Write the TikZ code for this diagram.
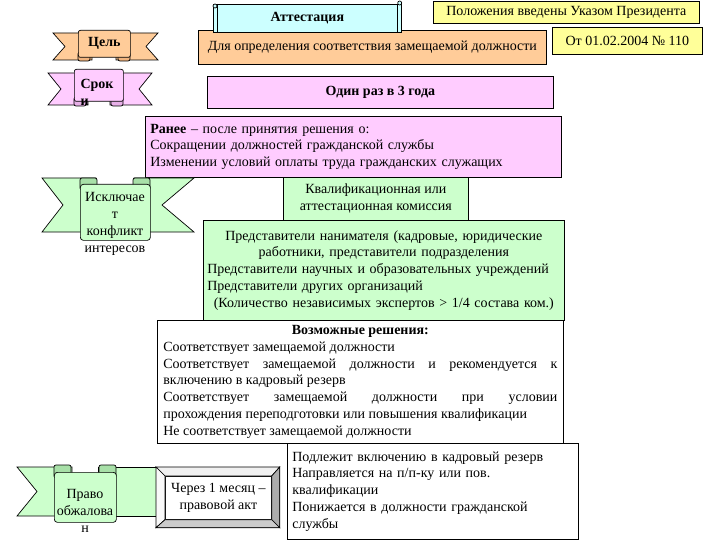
\documentclass[tikz,border=0pt]{standalone}
\usepackage{fontspec}
\setmainfont{Liberation Serif}
\usepackage{tikz}
\usetikzlibrary{calc}
\definecolor{ATTCyan}{HTML}{CCFFFF}
\definecolor{ATTYellow}{HTML}{FFFF99}
\definecolor{ATTPeach}{HTML}{FFCC99}
\definecolor{ATTPeachDark}{HTML}{F0B47E}
\definecolor{ATTViolet}{HTML}{FFCCFF}
\definecolor{ATTVioletDark}{HTML}{E8B0E8}
\definecolor{ATTGreen}{HTML}{CCFFCC}
\definecolor{ATTGreenDark}{HTML}{A8E0A8}
\setlength{\parindent}{0pt}

\begin{document}
\begin{tikzpicture}[
      x=1pt,y=-1pt,
      font=\fontsize{14}{16.8}\selectfont,
      panel/.style={draw=black,line width=0.7pt,anchor=north west,inner sep=0pt},
      tag/.style={panel,rounded corners=2pt,fill=#1},
      ribbontail/.style={draw=black,line width=0.7pt,fill=#1},
      ribbonfold/.style={draw=black,line width=0.7pt,fill=#1,rounded corners=2pt},
      bevel/.style={draw=black,line width=0.7pt,fill=#1}
    ]
      \useasboundingbox (0,0) rectangle (720,540);

      \node[panel,fill=ATTPeach,minimum width=348,minimum height=34] (goal) at (198,30)
        {Для определения соответствия замещаемой должности};
      \node[panel,fill=ATTCyan,minimum width=188,minimum height=28] (atte) at (213,4)
        {\textbf{Аттестация}};
      \draw[line width=0.7pt] (atte.north west) ++(4,0) -- ++(0,28);
      \draw[line width=0.7pt] (atte.north east) ++(-4,0) -- ++(0,28);
      \draw[line width=0.7pt,fill=ATTCyan] (atte.north west) ++(2,2) circle (2pt);
      \draw[line width=0.7pt,fill=ATTCyan] (atte.north east) ++(-2,-1) circle (2pt);

      \node[panel,fill=ATTYellow,minimum width=266,minimum height=22] (decree) at (433,1)
        {Положения введены Указом Президента};
      \node[panel,fill=ATTYellow,minimum width=150,minimum height=27] (date) at (552,27)
        {От 01.02.2004 № 110};

      \filldraw[ribbontail=ATTPeach] (53,33) -- (92,33) -- (92,60) -- (53,60) -- (65,46.5) -- cycle;
      \filldraw[ribbontail=ATTPeach] (158,33) -- (116,33) -- (116,60) -- (158,60) -- (146,46.5) -- cycle;
      \filldraw[ribbonfold=ATTPeachDark] (78,52) rectangle (90,61);
      \filldraw[ribbonfold=ATTPeachDark] (118,52) rectangle (130,61);
      \node[tag=ATTPeach,minimum width=52,minimum height=27] (goaltag) at (78,30) {\textbf{Цель}};

      \filldraw[ribbontail=ATTViolet] (48,73) -- (88,73) -- (88,105) -- (48,105) -- (61,89) -- cycle;
      \filldraw[ribbontail=ATTViolet] (152,73) -- (110,73) -- (110,105) -- (152,105) -- (139,89) -- cycle;
      \filldraw[ribbonfold=ATTVioletDark] (74,97) rectangle (86,106);
      \filldraw[ribbonfold=ATTVioletDark] (111,97) rectangle (123,106);
      \node[tag=ATTViolet,minimum width=49,minimum height=32] (termtag) at (74,69) {};
      \node[align=left,inner sep=0pt] (termtext) at (97,92) {\textbf{Срок}\\\textbf{и}};

      \node[panel,fill=ATTViolet,minimum width=346,minimum height=32] (period) at (207,76)
        {\textbf{Один раз в 3 года}};

      \node[panel,fill=ATTViolet,minimum width=416,minimum height=61,text width=406,
        inner xsep=5,align=left] (earlier) at (145,116)
        {\textbf{Ранее} – после принятия решения о:\\
         Сокращении должностей гражданской службы\\
         Изменении условий оплаты труда гражданских служащих};

      \filldraw[ribbontail=ATTGreen] (42,178) -- (96,178) -- (96,232) -- (42,232) -- (63,205) -- cycle;
      \filldraw[ribbontail=ATTGreen] (194,178) -- (134,178) -- (134,232) -- (194,232) -- (162,205) -- cycle;
      \filldraw[ribbonfold=ATTGreenDark] (80,178) rectangle (97,190);
      \filldraw[ribbonfold=ATTGreenDark] (133,178) rectangle (150,190);
      \node[tag=ATTGreen,rounded corners=3pt,minimum width=70,minimum height=56] (conflicttag) at (80,184) {};
      \node[align=center,inner sep=0pt] (conflicttext) at (115,224)
        {Исключае\\т\\конфликт\\интересов};

      \node[panel,fill=ATTGreen,minimum width=185,minimum height=43,align=center] (commission) at (283,177)
        {Квалификационная или\\аттестационная комиссия};
      \node[panel,fill=ATTGreen,minimum width=361,minimum height=100,text width=353,
        inner xsep=4,align=left] (members) at (203,220)
        {{\centering Представители нанимателя (кадровые, юридические\\
          работники, представители подразделения\par}
         Представители научных и образовательных учреждений\\
         Представители других организаций\\
         {\centering (Количество независимых экспертов > 1/4 состава ком.)\par}};

      \node[panel,fill=white,minimum width=406,minimum height=123,text width=394,
        inner xsep=6,align=justify] (decisions) at (157,320)
        {{\centering\textbf{Возможные решения:}\par}
         Соответствует замещаемой должности\par
         Соответствует замещаемой должности и рекомендуется к\linebreak
         включению в кадровый резерв\par
         Соответствует замещаемой должности при условии\linebreak
         прохождения переподготовки или повышения квалификации\par
         Не соответствует замещаемой должности};

      \node[panel,fill=white,minimum width=291,minimum height=96,text width=281,
        inner xsep=5,align=left] (outcomes) at (287,443)
        {Подлежит включению в кадровый резерв\\
         Направляется на п/п-ку или пов.\\
         квалификации\\
         Понижается в должности гражданской\\
         службы};

      \filldraw[ribbontail=ATTGreen] (17,467) -- (72,467) -- (72,516) -- (17,516) -- (37,491.5) -- cycle;
      \filldraw[ribbontail=ATTGreen] (98,467) -- (162,467) -- (162,516) -- (98,516) -- cycle;
      \filldraw[ribbonfold=ATTGreenDark] (54,465) rectangle (71,478);
      \filldraw[ribbonfold=ATTGreenDark] (99,465) rectangle (116,478);
      \node[tag=ATTGreen,rounded corners=3pt,minimum width=62,minimum height=50] (appealtag) at (54,472) {};
      \node[align=center,inner sep=0pt] (appealtext) at (85,511) {Право\\обжалова\\н};

      \node[panel,fill=white,minimum width=123,minimum height=60] (lagframe) at (156,467) {};
      \node[panel,fill=white,minimum width=106,minimum height=43,align=center] (lag) at (165,476)
        {Через 1 месяц –\\правовой акт};
      \filldraw[bevel=gray!12] (lagframe.north west) -- (lagframe.north east) -- (lag.north east) -- (lag.north west) -- cycle;
      \filldraw[bevel=gray!5] (lagframe.north west) -- (lag.north west) -- (lag.south west) -- (lagframe.south west) -- cycle;
      \filldraw[bevel=gray!65] (lagframe.north east) -- (lagframe.south east) -- (lag.south east) -- (lag.north east) -- cycle;
      \filldraw[bevel=gray!40] (lagframe.south west) -- (lag.south west) -- (lag.south east) -- (lagframe.south east) -- cycle;
    \end{tikzpicture}
\end{document}
